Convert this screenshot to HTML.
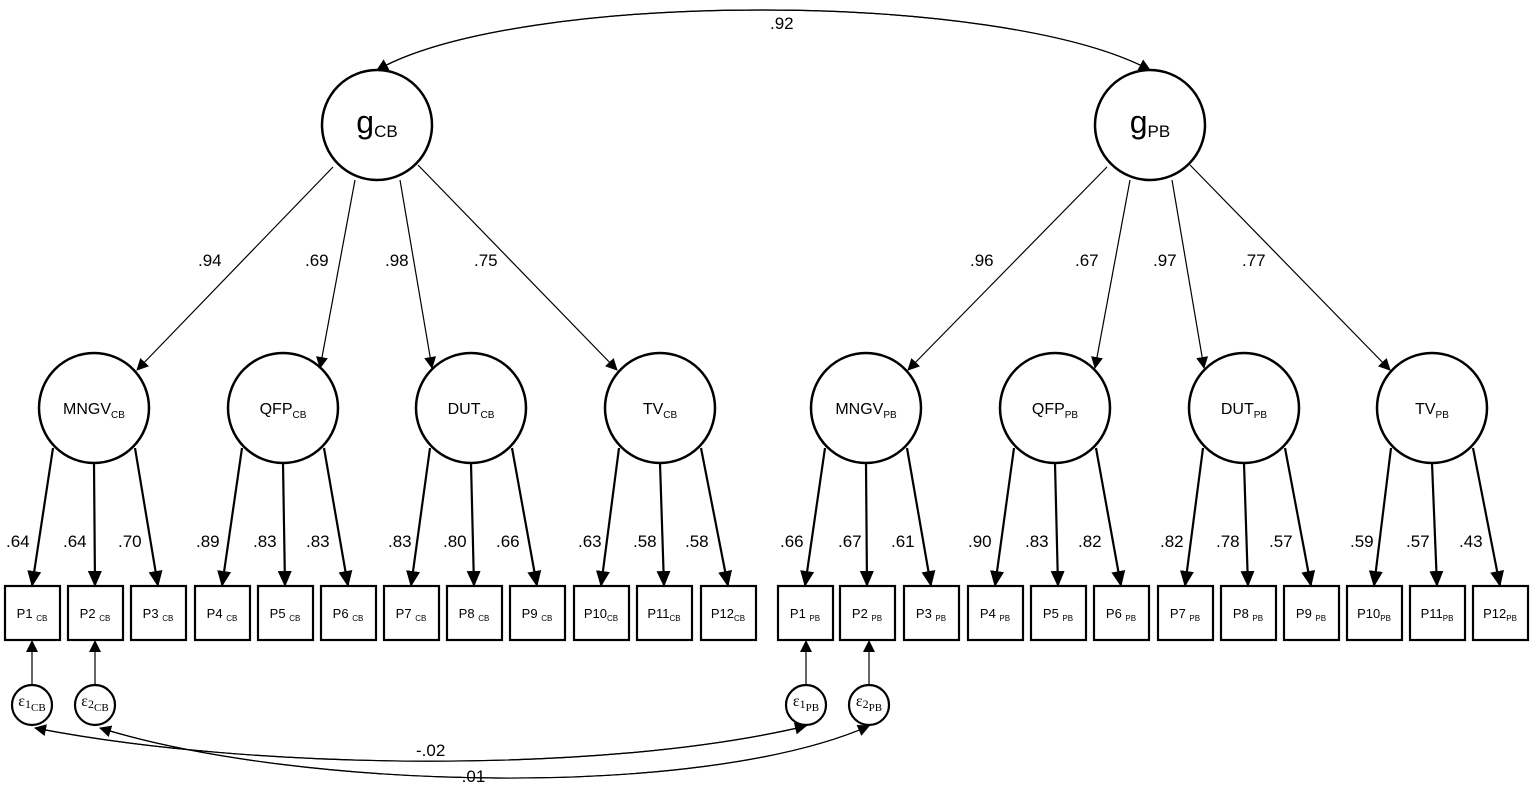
<!DOCTYPE html>
<html><head><meta charset="utf-8"><style>
html,body{margin:0;padding:0;background:#fff}
svg{display:block;font-family:"Liberation Sans",sans-serif}
</style></head><body>
<svg id="s" width="1535" height="792" viewBox="0 0 1535 792" xmlns="http://www.w3.org/2000/svg">
<defs>
<marker id="a" markerWidth="12" markerHeight="12" refX="11" refY="6" orient="auto" markerUnits="userSpaceOnUse"><path d="M0,0 L12,6 L0,12 Z" fill="#000"/></marker>
<marker id="b" markerWidth="16" markerHeight="14" refX="15" refY="7" orient="auto" markerUnits="userSpaceOnUse"><path d="M0,0 L16,7 L0,14 Z" fill="#000"/></marker>
</defs>
<g fill="none" stroke="#000" stroke-width="1.2">
<path d="M1150,70 C1000,-10 520,-10 377,70" marker-end="url(#a)"/>
<path d="M377,70 C520,-10 1000,-10 1150,70" marker-end="url(#a)"/>
<path d="M806,726 C600,775 250,770 35,728" marker-end="url(#a)"/>
<path d="M35,728 C250,770 600,775 806,726" marker-end="url(#a)"/>
<path d="M869,726 C700,800 300,790 100,728" marker-end="url(#a)"/>
<path d="M100,728 C300,790 700,800 869,726" marker-end="url(#a)"/>
</g>
<g id="dyn"></g>
<g font-size="17" fill="#000">
<text x="770" y="29">.92</text>
<text x="416" y="756">-.02</text>
<text x="456" y="782">-.01</text>
</g>
</svg>
<script>
var NS="http://www.w3.org/2000/svg",g=document.getElementById("dyn");
function el(t,a,txt){var e=document.createElementNS(NS,t);for(var k in a)e.setAttribute(k,a[k]);if(txt!==undefined)e.textContent=txt;g.appendChild(e);return e;}
function lbl(x,y,main,sub,fs,ss,ff,dy){var t=el("text",{x:x,y:y,"font-size":fs,"text-anchor":"middle","font-family":ff||"Liberation Sans, sans-serif"});var a=document.createElementNS(NS,"tspan");a.textContent=main;t.appendChild(a);var b=document.createElementNS(NS,"tspan");b.setAttribute("font-size",ss);b.setAttribute("dy",dy||4);b.textContent=sub;t.appendChild(b);}
[[377,"CB"],[1150,"PB"]].forEach(function(c){el("circle",{cx:c[0],cy:125,r:55,fill:"#fff",stroke:"#000","stroke-width":2.5});lbl(c[0],133,"g",c[1],32,17,null,4);});
var gl=[[[333,167],[137,370]],[[355,180],[320,368]],[[400,180],[432,368]],[[418,165],[617,370]],
[[1107,167],[908,370]],[[1130,180],[1095,368]],[[1172,180],[1204,368]],[[1190,165],[1390,370]]];
gl.forEach(function(l){el("line",{x1:l[0][0],y1:l[0][1],x2:l[1][0],y2:l[1][1],stroke:"#000","stroke-width":1.2,"marker-end":"url(#a)"});});
var gv=[[198,".94"],[305,".69"],[385,".98"],[474,".75"],[970,".96"],[1075,".67"],[1153,".97"],[1242,".77"]];
gv.forEach(function(v){el("text",{x:v[0],y:266,"font-size":17},v[1]);});
var facs=[[94,"MNGV","CB"],[283,"QFP","CB"],[471,"DUT","CB"],[660,"TV","CB"],[866,"MNGV","PB"],[1055,"QFP","PB"],[1244,"DUT","PB"],[1432,"TV","PB"]];
var boxX=[5,68,131,195,258,321,384,447,510,574,637,701,778,840,904,968,1031,1094,1158,1221,1284,1347,1410,1473];
var ind=[".64",".64",".70",".89",".83",".83",".83",".80",".66",".63",".58",".58",".66",".67",".61",".90",".83",".82",".82",".78",".57",".59",".57",".43"];
var lx=[6,63,118,196,253,306,388,443,496,578,633,685,780,838,891,968,1025,1078,1160,1216,1269,1350,1406,1459];
facs.forEach(function(f,i){
 var so=[[-41,40],[0,55],[41,40]];
 for(var j=0;j<3;j++){var k=i*3+j,bx=boxX[k]+27;
  el("line",{x1:f[0]+so[j][0],y1:408+so[j][1],x2:bx,y2:586,stroke:"#000","stroke-width":2.2,"marker-end":"url(#b)"});}
 el("circle",{cx:f[0],cy:408,r:55,fill:"#fff",stroke:"#000","stroke-width":2.5});
 lbl(f[0],414,f[1],f[2],16,10,null,4);
});
boxX.forEach(function(x,k){
 el("rect",{x:x,y:586,width:55,height:54,fill:"#fff",stroke:"#000","stroke-width":2.2});
 var n=(k%12)+1,sub=k<12?"CB":"PB";
 lbl(x+27,618,"P"+n+(n<10?" ":""),sub,13,8,null,3);
 el("text",{x:lx[k],y:547,"font-size":17},ind[k]);
});
[[32,1,"CB"],[95,2,"CB"],[806,1,"PB"],[869,2,"PB"]].forEach(function(e){
 el("line",{x1:e[0],y1:685,x2:e[0],y2:641,stroke:"#000","stroke-width":1.2,"marker-end":"url(#a)"});
 el("circle",{cx:e[0],cy:705,r:20,fill:"#fff",stroke:"#000","stroke-width":2.2});
 var t=el("text",{x:e[0],y:706,"font-size":16,"text-anchor":"middle","font-family":"Liberation Serif, serif"});
 t.innerHTML='ε<tspan font-size="12" dy="2">'+e[1]+'</tspan><tspan font-size="11" dy="3">'+e[2]+'</tspan>';
});
</script>
</body></html>
